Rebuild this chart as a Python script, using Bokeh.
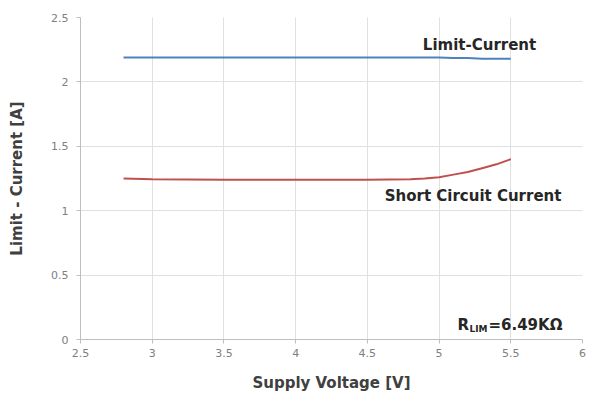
from bokeh.plotting import figure
from bokeh.embed import file_html
from bokeh.resources import INLINE
from bokeh.models import Range1d, FixedTicker, Label

# Data
voltage = [2.8, 3.0, 3.5, 4.0, 4.5, 4.8, 4.9, 5.0, 5.1, 5.2, 5.3, 5.4, 5.5]
limit_current = [2.19, 2.19, 2.19, 2.19, 2.19, 2.19, 2.19, 2.19, 2.185, 2.185, 2.18, 2.18, 2.18]
short_current = [1.25, 1.245, 1.24, 1.24, 1.24, 1.245, 1.25, 1.26, 1.28, 1.30, 1.33, 1.36, 1.40]
x_ticks = [2.5, 3, 3.5, 4, 4.5, 5, 5.5, 6]
y_ticks = [0, 0.5, 1, 1.5, 2, 2.5]

FONT = "DejaVu Sans"
TXT = "#262626"

p = figure(width=586, height=395, output_backend="svg", toolbar_location=None,
           x_range=Range1d(2.5, 6), y_range=Range1d(0, 2.5),
           min_border_left=80, min_border_right=4, min_border_top=17, min_border_bottom=56)
p.outline_line_color = None
p.background_fill_color = "white"

for ax, ticks in ((p.xaxis, x_ticks), (p.yaxis, y_ticks)):
    ax.ticker = FixedTicker(ticks=ticks)
    ax.axis_line_color = "#bfbfbf"
    ax.major_tick_line_color = "#bfbfbf"
    ax.major_tick_out = 4
    ax.major_tick_in = 0
    ax.minor_tick_line_color = None
    ax.major_label_text_color = "#808080"
    ax.major_label_text_font = FONT
    ax.major_label_text_font_size = "11px"
    ax.axis_label_text_font = FONT
    ax.axis_label_text_font_style = "bold"
    ax.axis_label_text_font_size = "15px"
    ax.axis_label_text_color = "#404040"

p.xaxis.axis_label = "Supply Voltage [V]"
p.yaxis.axis_label = "Limit - Current [A]"
p.yaxis.major_label_orientation = "horizontal"
p.yaxis.major_label_standoff = 8
p.yaxis.axis_label_standoff = 22
p.xaxis.axis_label_standoff = 14
p.xgrid.grid_line_color = "#e0e0e0"
p.ygrid.grid_line_color = "#e0e0e0"
p.xgrid.ticker = FixedTicker(ticks=x_ticks)
p.ygrid.ticker = FixedTicker(ticks=y_ticks)

p.line(voltage, limit_current, line_color="#4f81bd", line_width=2)
p.line(voltage, short_current, line_color="#c0504d", line_width=2)

p.add_layout(Label(x=5.282, y=2.283, text="Limit-Current", text_align="center", text_baseline="middle",
                   text_font=FONT, text_font_style="bold", text_font_size="15px", text_color=TXT))
p.add_layout(Label(x=5.237, y=1.118, text="Short Circuit Current", text_align="center", text_baseline="middle",
                   text_font=FONT, text_font_style="bold", text_font_size="15px", text_color=TXT))
p.add_layout(Label(x=5.128, y=0.109, text="R", text_align="left", text_baseline="middle",
                   text_font=FONT, text_font_style="bold", text_font_size="15px", text_color=TXT))
p.add_layout(Label(x=5.128, y=0.109, x_offset=12, y_offset=-4, text="LIM", text_align="left", text_baseline="middle",
                   text_font=FONT, text_font_style="bold", text_font_size="9px", text_color=TXT))
p.add_layout(Label(x=5.128, y=0.109, x_offset=31, text="=6.49KΩ", text_align="left", text_baseline="middle",
                   text_font=FONT, text_font_style="bold", text_font_size="15px", text_color=TXT))

open("out.html", "w").write(file_html(p, INLINE))
